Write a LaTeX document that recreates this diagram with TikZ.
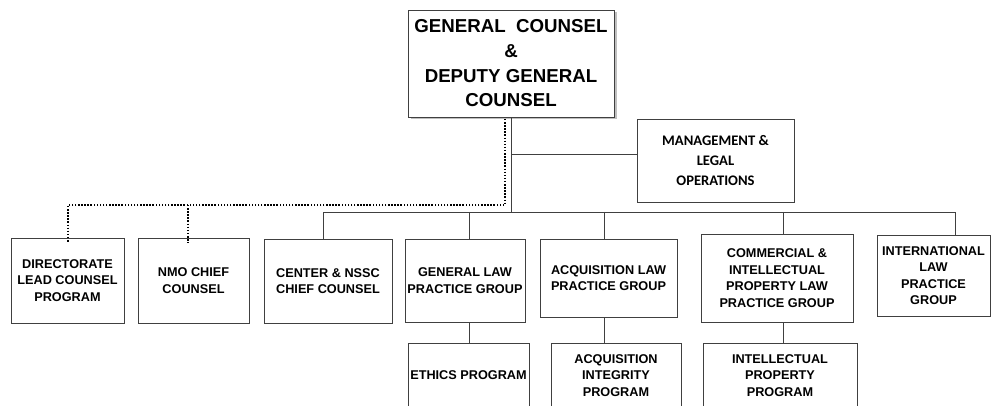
\documentclass[tikz,border=0pt]{standalone}
\usepackage{fontspec}
\setmainfont{Liberation Sans}
\newfontfamily\calfont{Carlito}
\begin{document}
\begin{tikzpicture}[x=1pt,y=-1pt,
  box/.style={draw=black!75,line width=0.8pt,fill=white,inner sep=0pt,align=center,
    font=\bfseries\fontsize{12.7}{16.5}\selectfont},
  titlebox/.style={box,font=\bfseries\fontsize{18.7}{24.7}\selectfont},
  mgmtbox/.style={box,font=\calfont\bfseries\fontsize{14.6}{20}\selectfont},
  link/.style={draw=black!75,line width=0.8pt},
  dotlink/.style={draw=black,line width=2.8pt,dash pattern=on 1.5pt off 1.6pt}]
\useasboundingbox (0,0) rectangle (993,406);
\clip (0,0) rectangle (993,406);
\fill[white] (0,0) rectangle (993,406);

% top of the chart
\fill[black!25] (410.5,12.5) rectangle (616.5,119.5);
\node[titlebox,minimum width=206pt,minimum height=107pt] (gc) at (511,63.5)
  {GENERAL\ \ COUNSEL\\\&\\DEPUTY GENERAL\\COUNSEL};
\node[mgmtbox,minimum width=157pt,minimum height=83pt] (mgmt) at (715.5,160.5)
  {MANAGEMENT \&\\LEGAL\\OPERATIONS};

% first tier
\node[box,minimum width=113pt,minimum height=85pt] (dir) at (67.5,280.5)
  {DIRECTORATE\\LEAD COUNSEL\\PROGRAM};
\node[box,minimum width=111pt,minimum height=85pt] (nmo) at (193.5,280.5)
  {NMO CHIEF\\COUNSEL};
\node[box,minimum width=128pt,minimum height=84pt] (ctr) at (328,281)
  {CENTER \& NSSC\\CHIEF COUNSEL};
\node[box,minimum width=120pt,minimum height=83pt] (gen) at (465,280.5)
  {GENERAL LAW\\PRACTICE GROUP};
\node[box,minimum width=137pt,minimum height=78pt] (acq) at (608.5,278)
  {ACQUISITION LAW\\PRACTICE GROUP};
\node[box,minimum width=152pt,minimum height=88pt] (com) at (777,278)
  {COMMERCIAL \&\\INTELLECTUAL\\PROPERTY LAW\\PRACTICE GROUP};
\node[box,minimum width=113pt,minimum height=81pt] (intl) at (933.5,275.5)
  {INTERNATIONAL\\LAW\\PRACTICE\\GROUP};

% second tier
\node[box,minimum width=121pt,minimum height=65pt] (eth) at (468.5,375.5)
  {ETHICS PROGRAM};
\node[box,minimum width=130pt,minimum height=65pt] (aint) at (616,375.5)
  {ACQUISITION\\INTEGRITY\\PROGRAM};
\node[box,minimum width=154pt,minimum height=65pt] (ip) at (780,375.5)
  {INTELLECTUAL\\PROPERTY\\PROGRAM};

% junction points on the bus
\coordinate (mgJ) at (511,154);
\coordinate (busL) at (323,212);
\coordinate (busR) at (955,212);
\coordinate (bGen) at (469,212);
\coordinate (bAcq) at (604,212);
\coordinate (bCom) at (783,212);

% solid reporting lines
\draw[link] (gc.south) -- (gc.south |- busL);
\draw[link] (mgJ) -- (mgJ -| mgmt.west);
\draw[link] (busL |- ctr.north) -- (busL) -- (busR) -- (busR |- intl.north);
\draw[link] (bGen) -- (bGen |- gen.north);
\draw[link] (bAcq) -- (bAcq |- acq.north);
\draw[link] (bCom) -- (bCom |- com.north);
\draw[link] (gen.south -| bGen) -- (eth.north -| bGen);
\draw[link] (acq.south -| bAcq) -- (aint.north -| bAcq);
\draw[link] (com.south -| bCom) -- (ip.north -| bCom);

% dotted lines to the directorate and NMO counsel
\coordinate (dTop) at (505,119);
\coordinate (dCorner) at (505,205);
\coordinate (dDir) at (68,205);
\coordinate (dNmo) at (188,205);
\draw[dotlink] (dTop) -- (dCorner) -- (dDir) -- ([yshift=-5pt]dDir |- dir.north);
\draw[dotlink] (dNmo) -- ([yshift=-5pt]dNmo |- nmo.north);
\end{tikzpicture}
\end{document}
